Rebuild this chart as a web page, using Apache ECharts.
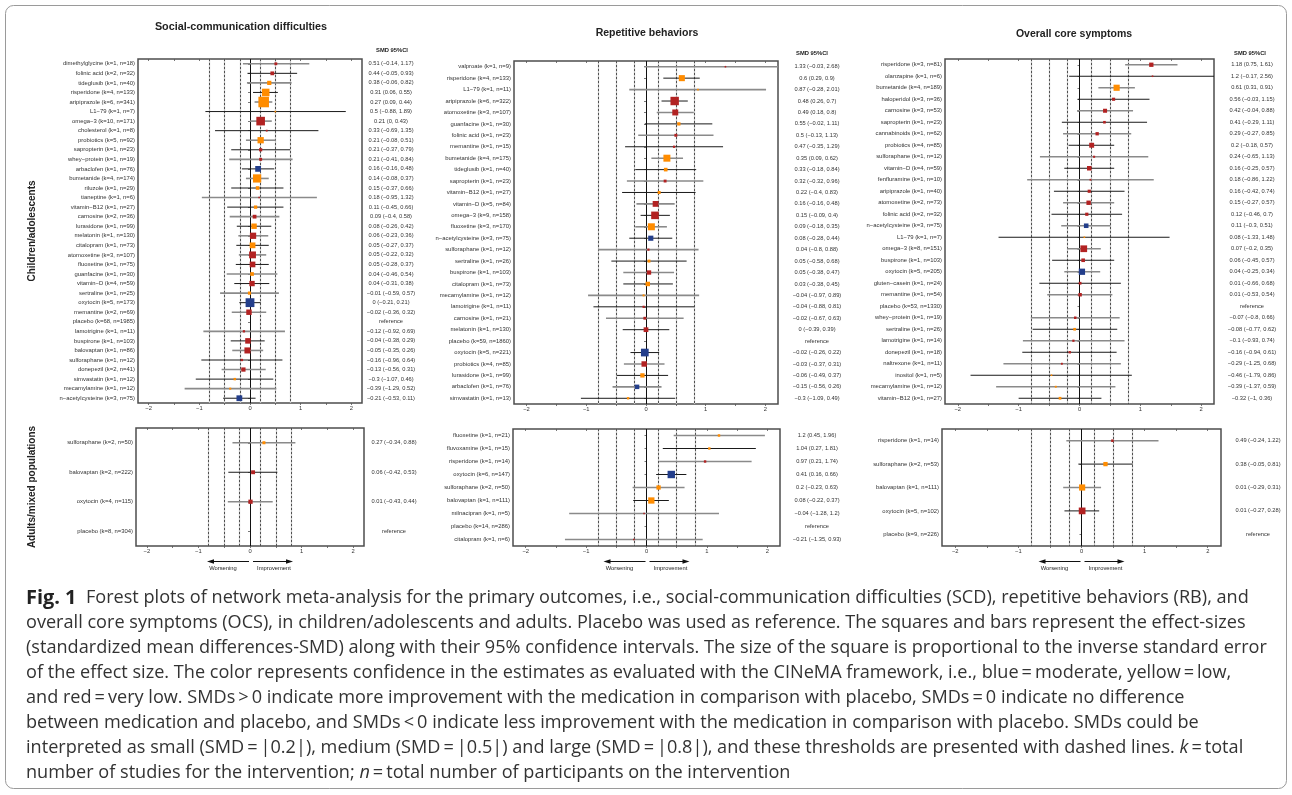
<!DOCTYPE html>
<html><head><meta charset="utf-8">
<script src="https://cdn.jsdelivr.net/npm/echarts@6/dist/echarts.min.js"></script>
<style>html,body{margin:0;padding:0;background:#fff}#c{width:1292px;height:795px}</style>
</head><body><div id="c"></div><script>
// ---------- DATA ----------
const xTickLabels = [-2, -1, 0, 1, 2];
const xTickMarks = [-2, -1.5, -1, -0.5, 0, 0.5, 1, 1.5, 2];
const thresholds = [-0.8, -0.5, -0.2, 0.2, 0.5, 0.8];

// Social-communication difficulties, children/adolescents
const scdChildLabels = ['dimethylglycine (k=1, n=18)','folinic acid (k=2, n=32)','tideglusib (k=1, n=40)','risperidone (k=4, n=133)','aripiprazole (k=6, n=341)','L1\u221279 (k=1, n=7)','omega\u22123 (k=10, n=171)','cholesterol (k=1, n=8)','probiotics (k=5, n=92)','sapropterin (k=1, n=23)','whey\u2212protein (k=1, n=19)','arbaclofen (k=1, n=76)','bumetanide (k=4, n=174)','riluzole (k=1, n=29)','tianeptine (k=1, n=6)','vitamin\u2212B12 (k=1, n=27)','carnosine (k=2, n=36)','lurasidone (k=1, n=99)','melatonin (k=1, n=130)','citalopram (k=1, n=73)','atomoxetine (k=3, n=107)','fluoxetine (k=1, n=75)','guanfacine (k=1, n=30)','vitamin\u2212D (k=4, n=59)','sertraline (k=1, n=25)','oxytocin (k=5, n=173)','memantine (k=2, n=69)','placebo (k=68, n=1985)','lamotrigine (k=1, n=11)','buspirone (k=1, n=103)','balovaptan (k=1, n=86)','sulforaphane (k=1, n=12)','donepezil (k=2, n=41)','simvastatin (k=1, n=12)','mecamylamine (k=1, n=12)','n\u2212acetylcysteine (k=3, n=75)'];
const scdChildSMD  = [0.51,0.44,0.38,0.31,0.27,0.5,0.21,0.33,0.21,0.21,0.21,0.16,0.14,0.15,0.18,0.11,0.09,0.08,0.06,0.05,0.05,0.05,0.04,0.04,-0.01,0,-0.02,null,-0.12,-0.04,-0.05,-0.16,-0.13,-0.3,-0.39,-0.21];
const scdChildLow  = [-0.14,-0.05,-0.06,0.06,0.09,-0.88,0,-0.69,-0.08,-0.37,-0.41,-0.16,-0.08,-0.37,-0.95,-0.45,-0.4,-0.26,-0.23,-0.27,-0.22,-0.28,-0.46,-0.31,-0.59,-0.21,-0.36,null,-0.92,-0.38,-0.35,-0.96,-0.56,-1.07,-1.29,-0.53];
const scdChildHigh = [1.17,0.93,0.82,0.55,0.44,1.89,0.43,1.35,0.51,0.79,0.84,0.48,0.37,0.66,1.32,0.66,0.58,0.42,0.36,0.37,0.32,0.37,0.54,0.38,0.57,0.21,0.32,null,0.69,0.29,0.26,0.64,0.31,0.46,0.52,0.11];
const scdChildConf = ['r','r','o','o','o','o','r','r','o','r','r','b','o','o','r','o','r','o','r','o','r','r','o','r','o','b','r',null,'r','r','r','r','r','o','o','b'];

// Repetitive behaviors, children/adolescents
const rbChildLabels = ['valproate (k=1, n=9)','risperidone (k=4, n=133)','L1\u221279 (k=1, n=11)','aripiprazole (k=6, n=322)','atomoxetine (k=3, n=107)','guanfacine (k=1, n=30)','folinic acid (k=1, n=23)','memantine (k=1, n=15)','bumetanide (k=4, n=175)','tideglusib (k=1, n=40)','sapropterin (k=1, n=23)','vitamin\u2212B12 (k=1, n=27)','vitamin\u2212D (k=5, n=84)','omega\u22123 (k=9, n=158)','fluoxetine (k=3, n=170)','n\u2212acetylcysteine (k=3, n=75)','sulforaphane (k=1, n=12)','sertraline (k=1, n=26)','buspirone (k=1, n=103)','citalopram (k=1, n=73)','mecamylamine (k=1, n=12)','lamotrigine (k=1, n=11)','carnosine (k=1, n=21)','melatonin (k=1, n=130)','placebo (k=59, n=1860)','oxytocin (k=5, n=221)','probiotics (k=4, n=85)','lurasidone (k=1, n=99)','arbaclofen (k=1, n=76)','simvastatin (k=1, n=13)'];
const rbChildSMD  = [1.33,0.6,0.87,0.48,0.49,0.55,0.5,0.47,0.35,0.33,0.32,0.22,0.16,0.15,0.09,0.08,0.04,0.05,0.05,0.03,-0.04,-0.04,-0.02,0,null,-0.02,-0.03,-0.06,-0.15,-0.3];
const rbChildLow  = [-0.03,0.29,-0.28,0.26,0.18,-0.02,-0.13,-0.35,0.09,-0.18,-0.32,-0.4,-0.16,-0.09,-0.18,-0.28,-0.8,-0.58,-0.38,-0.38,-0.97,-0.88,-0.67,-0.39,null,-0.26,-0.37,-0.49,-0.56,-1.09];
const rbChildHigh = [2.68,0.9,2.01,0.7,0.8,1.11,1.13,1.29,0.62,0.84,0.96,0.83,0.48,0.4,0.35,0.44,0.88,0.68,0.47,0.45,0.89,0.81,0.63,0.39,null,0.22,0.31,0.37,0.26,0.49];
const rbChildConf = ['r','o','o','r','r','o','r','r','o','o','r','o','r','r','o','b','r','o','r','o','o','r','r','r',null,'b','r','o','b','o'];

// Overall core symptoms, children/adolescents
const ocsChildLabels = ['risperidone (k=3, n=81)','olanzapine (k=1, n=6)','bumetanide (k=4, n=189)','haloperidol (k=3, n=36)','carnosine (k=3, n=53)','sapropterin (k=1, n=23)','cannabinoids (k=1, n=62)','probiotics (k=4, n=85)','sulforaphane (k=1, n=12)','vitamin\u2212D (k=4, n=59)','fenfluramine (k=1, n=10)','aripiprazole (k=1, n=40)','atomoxetine (k=2, n=73)','folinic acid (k=2, n=32)','n\u2212acetylcysteine (k=3, n=75)','L1\u221279 (k=1, n=7)','omega\u22123 (k=8, n=151)','buspirone (k=1, n=103)','oxytocin (k=5, n=205)','gluten\u2212casein (k=1, n=24)','memantine (k=1, n=54)','placebo (k=53, n=1330)','whey\u2212protein (k=1, n=19)','sertraline (k=1, n=26)','lamotrigine (k=1, n=14)','donepezil (k=1, n=18)','naltrexone (k=1, n=11)','inositol (k=1, n=5)','mecamylamine (k=1, n=12)','vitamin\u2212B12 (k=1, n=27)'];
const ocsChildSMD  = [1.18,1.2,0.61,0.56,0.42,0.41,0.29,0.2,0.24,0.16,0.18,0.16,0.15,0.12,0.11,0.08,0.07,0.06,0.04,0.01,0.01,null,-0.07,-0.08,-0.1,-0.16,-0.29,-0.46,-0.39,-0.32];
const ocsChildLow  = [0.75,-0.17,0.31,-0.03,-0.04,-0.29,-0.27,-0.18,-0.65,-0.25,-0.86,-0.42,-0.27,-0.46,-0.3,-1.33,-0.2,-0.45,-0.25,-0.66,-0.53,null,-0.8,-0.77,-0.93,-0.94,-1.25,-1.79,-1.37,-1];
const ocsChildHigh = [1.61,2.56,0.91,1.15,0.88,1.11,0.85,0.57,1.13,0.57,1.22,0.74,0.57,0.7,0.51,1.48,0.35,0.57,0.34,0.68,0.54,null,0.66,0.62,0.74,0.61,0.68,0.86,0.59,0.36];
const ocsChildConf = ['r','r','o','r','r','r','r','r','r','r','r','r','r','r','b','o','r','r','b','r','r',null,'r','o','r','r','r','o','o','o'];

// Social-communication difficulties, adults/mixed populations
const scdAdultLabels = ['sulforaphane (k=2, n=50)','balovaptan (k=2, n=222)','oxytocin (k=4, n=115)','placebo (k=8, n=304)'];
const scdAdultSMD  = [0.27,0.06,0.01,null];
const scdAdultLow  = [-0.34,-0.42,-0.43,null];
const scdAdultHigh = [0.88,0.53,0.44,null];
const scdAdultConf = ['o','r','r',null];

// Repetitive behaviors, adults/mixed populations
const rbAdultLabels = ['fluoxetine (k=1, n=21)','fluvoxamine (k=1, n=15)','risperidone (k=1, n=14)','oxytocin (k=6, n=147)','sulforaphane (k=2, n=50)','balovaptan (k=1, n=111)','milnacipran (k=1, n=5)','placebo (k=14, n=286)','citalopram (k=1, n=6)'];
const rbAdultSMD  = [1.2,1.04,0.97,0.41,0.2,0.08,-0.04,null,-0.21];
const rbAdultLow  = [0.45,0.27,0.21,0.16,-0.23,-0.22,-1.28,null,-1.35];
const rbAdultHigh = [1.96,1.81,1.74,0.66,0.63,0.37,1.2,null,0.93];
const rbAdultConf = ['o','o','r','b','o','o','r',null,'r'];

// Overall core symptoms, adults/mixed populations
const ocsAdultLabels = ['risperidone (k=1, n=14)','sulforaphane (k=2, n=53)','balovaptan (k=1, n=111)','oxytocin (k=5, n=102)','placebo (k=9, n=226)'];
const ocsAdultSMD  = [0.49,0.38,0.01,0.01,null];
const ocsAdultLow  = [-0.24,-0.05,-0.29,-0.27,null];
const ocsAdultHigh = [1.22,0.81,0.31,0.28,null];
const ocsAdultConf = ['r','o','o','r',null];

const panelTitles = ['Social-communication difficulties', 'Repetitive behaviors', 'Overall core symptoms'];
const groupLabels = ['Children/adolescents', 'Adults/mixed populations'];
const ciHeader = 'SMD 95%CI';
const captionLines = [
  '{b|Fig. 1}  Forest plots of network meta-analysis for the primary outcomes, i.e., social-communication difficulties (SCD), repetitive behaviors (RB), and',
  'overall core symptoms (OCS), in children/adolescents and adults. Placebo was used as reference. The squares and bars represent the effect-sizes',
  '(standardized mean differences-SMD) along with their 95% confidence intervals. The size of the square is proportional to the inverse standard error',
  'of the effect size. The color represents confidence in the estimates as evaluated with the CINeMA framework, i.e., blue\u2009=\u2009moderate, yellow\u2009=\u2009low,',
  'and red\u2009=\u2009very low. SMDs\u2009>\u20090 indicate more improvement with the medication in comparison with placebo, SMDs\u2009=\u20090 indicate no difference',
  'between medication and placebo, and SMDs\u2009<\u20090 indicate less improvement with the medication in comparison with placebo. SMDs could be',
  'interpreted as small (SMD\u2009=\u2009|0.2|), medium (SMD\u2009=\u2009|0.5|) and large (SMD\u2009=\u2009|0.8|), and these thresholds are presented with dashed lines. {i|k}\u2009=\u2009total',
  'number of studies for the intervention; {i|n}\u2009=\u2009total number of participants on the intervention'
];

// ---------- STYLE / LAYOUT ----------
const FONT = '"Liberation Sans", Arial, Helvetica, sans-serif';
const CAP_FONT = '"Open Sans", "Noto Sans", sans-serif';
const CONF_COLORS = { r: '#B22222', o: '#FF8C00', b: '#233E8B' };
const X_MIN = -2.21, X_MAX = 2.21;

// caption size chosen so the longest plain line spans the text width of the figure
const mctx = document.createElement('canvas').getContext('2d');
mctx.font = '100px "Open Sans"';
const CAP_SIZE = Math.min(19, 100 * 1242 / mctx.measureText(captionLines[2]).width);

const panels = [
  { labels: scdChildLabels, smd: scdChildSMD, lo: scdChildLow, hi: scdChildHigh, conf: scdChildConf, grid: { left: 138, top: 59, width: 224, height: 344 }, ciMargin: 29 },
  { labels: rbChildLabels, smd: rbChildSMD, lo: rbChildLow, hi: rbChildHigh, conf: rbChildConf, grid: { left: 514, top: 61, width: 264, height: 343 }, ciMargin: 39 },
  { labels: ocsChildLabels, smd: ocsChildSMD, lo: ocsChildLow, hi: ocsChildHigh, conf: ocsChildConf, grid: { left: 945, top: 59, width: 269, height: 345 }, ciMargin: 38 },
  { labels: scdAdultLabels, smd: scdAdultSMD, lo: scdAdultLow, hi: scdAdultHigh, conf: scdAdultConf, grid: { left: 136, top: 428, width: 228, height: 118 }, ciMargin: 30 },
  { labels: rbAdultLabels, smd: rbAdultSMD, lo: rbAdultLow, hi: rbAdultHigh, conf: rbAdultConf, grid: { left: 513, top: 429, width: 267, height: 117 }, ciMargin: 37 },
  { labels: ocsAdultLabels, smd: ocsAdultSMD, lo: ocsAdultLow, hi: ocsAdultHigh, conf: ocsAdultConf, grid: { left: 942, top: 429, width: 279, height: 117 }, ciMargin: 37 }
];

const fmt = v => String(v).replace('-', '\u2212');

function renderForest(params, api) {
  const cs = params.coordSys;
  const idx = api.value(3);
  const lo = api.value(1), hi = api.value(2);
  const y = api.coord([0, idx])[1];
  const clampX = x => Math.max(cs.x, Math.min(cs.x + cs.width, x));
  const x1 = clampX(api.coord([lo, idx])[0]);
  const x2 = clampX(api.coord([hi, idx])[0]);
  const xc = api.coord([api.value(0), idx])[0];
  const s = Math.max(1.6, 3.7 / (hi - lo));
  const dark = idx % 2 === 1;
  return {
    type: 'group',
    children: [
      { type: 'line', shape: { x1: x1, y1: y, x2: x2, y2: y }, style: { stroke: dark ? '#1a1a1a' : '#8a8a8a', lineWidth: dark ? 1 : 1.6 } },
      { type: 'rect', shape: { x: xc - s / 2, y: y - s / 2, width: s, height: s }, style: { fill: api.visual('color') } }
    ]
  };
}

const grids = [], xAxes = [], yAxes = [], series = [];
panels.forEach((p, g) => {
  grids.push(Object.assign({ show: true, borderColor: '#4d4d4d', borderWidth: 1.5, backgroundColor: 'rgba(0,0,0,0)' }, p.grid));
  const tickStyle = { color: '#555', width: 0.8 };
  xAxes.push({
    type: 'value', gridIndex: g, min: X_MIN, max: X_MAX, position: 'bottom',
    axisLine: { show: false }, splitLine: { show: false },
    axisTick: { show: true, customValues: xTickMarks, length: 2, lineStyle: tickStyle },
    axisLabel: { customValues: xTickLabels, formatter: v => fmt(v), fontSize: 5.8, color: '#333', margin: 2.5, fontFamily: FONT }
  });
  xAxes.push({
    type: 'value', gridIndex: g, min: X_MIN, max: X_MAX, position: 'top',
    axisLine: { show: false }, splitLine: { show: false },
    axisTick: { show: true, inside: true, customValues: xTickMarks, length: 2, lineStyle: tickStyle },
    axisLabel: { show: false }
  });
  const ciTexts = p.labels.map((_, i) => p.smd[i] == null ? 'reference' : fmt(p.smd[i]) + ' (' + fmt(p.lo[i]) + ', ' + fmt(p.hi[i]) + ')');
  yAxes.push({
    type: 'category', gridIndex: g, inverse: true, data: p.labels, position: 'left',
    axisLine: { show: false }, splitLine: { show: false },
    axisTick: { show: true, alignWithLabel: true, length: 2, lineStyle: tickStyle },
    axisLabel: { interval: 0, fontSize: 5.9, color: '#333', margin: 3, fontFamily: FONT }
  });
  yAxes.push({
    type: 'category', gridIndex: g, inverse: true, data: ciTexts, position: 'right',
    axisLine: { show: false }, axisTick: { show: false }, splitLine: { show: false },
    axisLabel: { interval: 0, fontSize: 5.7, color: '#333', margin: p.ciMargin, align: 'center', fontFamily: FONT }
  });
  series.push({
    type: 'scatter', xAxisIndex: 2 * g, yAxisIndex: 2 * g, data: [], silent: true,
    markLine: {
      silent: true, symbol: 'none', z: 1, animation: false, label: { show: false },
      data: [{ xAxis: 0, lineStyle: { color: '#111', width: 1, type: 'solid' } }]
        .concat(thresholds.map(v => ({ xAxis: v, lineStyle: { color: '#c4c4c4', width: 1.2, type: 'solid' } })))
        .concat(thresholds.map(v => ({ xAxis: v, lineStyle: { color: '#333', width: 0.8, type: [2, 2] } })))
    }
  });
  const data = [];
  p.labels.forEach((_, i) => {
    if (p.smd[i] == null) return;
    data.push({ value: [p.smd[i], p.lo[i], p.hi[i], i], itemStyle: { color: CONF_COLORS[p.conf[i]] } });
  });
  series.push({ type: 'custom', xAxisIndex: 2 * g, yAxisIndex: 2 * g, z: 3, silent: true, renderItem: renderForest, data: data, clip: false });
});

const txt = (x, y, text, size, weight, extra) => ({
  type: 'text', x: x, y: y, silent: true,
  style: Object.assign({ text: text, fontSize: size, fontWeight: weight || 'normal', fontFamily: FONT, fill: '#222', align: 'center', verticalAlign: 'middle' }, extra || {})
});

const graphics = [
  { type: 'rect', silent: true, shape: { x: 5.5, y: 5.5, width: 1281, height: 783, r: 8 }, style: { fill: 'none', stroke: '#9a9a9a', lineWidth: 1 } },
  txt(241, 27, panelTitles[0], 10.8, 'bold'),
  txt(647, 33, panelTitles[1], 10.5, 'bold'),
  txt(1074, 34, panelTitles[2], 10.5, 'bold'),
  txt(392, 50, ciHeader, 5.8, 'bold'),
  txt(812, 53, ciHeader, 5.8, 'bold'),
  txt(1250, 53, ciHeader, 5.8, 'bold'),
  Object.assign(txt(32, 231, groupLabels[0], 10, 'bold'), { rotation: Math.PI / 2 }),
  Object.assign(txt(32, 487, groupLabels[1], 10, 'bold'), { rotation: Math.PI / 2 })
];

captionLines.forEach((line, i) => {
  graphics.push({
    type: 'text', x: 26, y: 598 + i * 25, silent: true,
    style: {
      text: line, fontSize: CAP_SIZE, fontFamily: CAP_FONT, fill: '#333', align: 'left', verticalAlign: 'middle',
      rich: {
        b: { fontSize: CAP_SIZE * 1.1, fontWeight: 'bold', fontFamily: CAP_FONT, fill: '#222' },
        i: { fontSize: CAP_SIZE, fontStyle: 'italic', fontFamily: CAP_FONT, fill: '#333' }
      }
    }
  });
});

const chart = echarts.init(document.getElementById('c'), null, { renderer: 'canvas' });
chart.setOption({
  animation: false,
  backgroundColor: '#fff',
  grid: grids, xAxis: xAxes, yAxis: yAxes, series: series,
  graphic: graphics
});

// Worsening / Improvement arrows under the bottom panels, anchored to each zero line
[3, 4, 5].forEach(g => {
  const z = chart.convertToPixel({ xAxisIndex: 2 * g }, 0);
  const ay = 561.5;
  graphics.push(
    { type: 'line', silent: true, shape: { x1: z - 1, y1: ay, x2: z - 38, y2: ay }, style: { stroke: '#111', lineWidth: 1 } },
    { type: 'polygon', silent: true, shape: { points: [[z - 43, ay], [z - 36, ay - 2.2], [z - 36, ay + 2.2]] }, style: { fill: '#111' } },
    { type: 'line', silent: true, shape: { x1: z + 3, y1: ay, x2: z + 38, y2: ay }, style: { stroke: '#111', lineWidth: 1 } },
    { type: 'polygon', silent: true, shape: { points: [[z + 43, ay], [z + 36, ay - 2.2], [z + 36, ay + 2.2]] }, style: { fill: '#111' } },
    txt(z - 27, 568.5, 'Worsening', 5.8, 'normal'),
    txt(z + 24, 568.5, 'Improvement', 5.8, 'normal')
  );
});
chart.setOption({ graphic: graphics });
</script></body></html>
